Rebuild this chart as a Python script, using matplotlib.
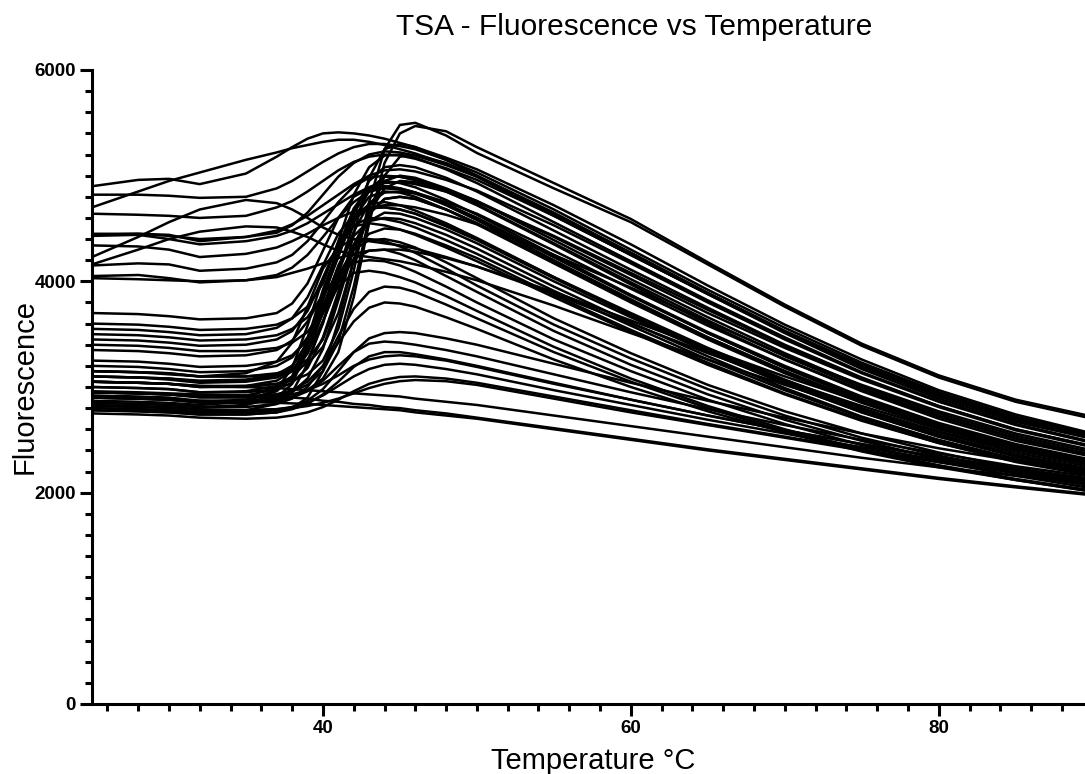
import matplotlib
matplotlib.use("Agg")
import matplotlib.pyplot as plt
from matplotlib.ticker import MultipleLocator

plt.rcParams['font.family'] = ['Liberation Sans', 'DejaVu Sans']

# temperature steps (deg C) shared by every well
temps = [25, 28, 30, 32, 35, 37, 38, 39, 40, 41, 42, 43, 44, 45, 46,
         48, 50, 55, 60, 65, 70, 75, 80, 85, 90]

# wells that already start bright and only swell gently
high_baseline = [
    [4900, 4960, 4970, 4920, 5020, 5180, 5270, 5350, 5400, 5410, 5400, 5380, 5350, 5310, 5270, 5170, 5060, 4720, 4350, 3960, 3590, 3260, 2970, 2740, 2560],
    [4820, 4820, 4810, 4790, 4800, 4880, 4950, 5040, 5130, 5210, 5270, 5300, 5300, 5280, 5250, 5150, 5030, 4680, 4300, 3920, 3560, 3230, 2950, 2720, 2550],
    [4700, 4850, 4950, 5030, 5150, 5220, 5260, 5290, 5320, 5340, 5340, 5320, 5290, 5250, 5210, 5110, 5000, 4650, 4270, 3890, 3530, 3210, 2940, 2710, 2540],
    [4640, 4630, 4620, 4600, 4620, 4700, 4760, 4850, 4950, 5050, 5130, 5180, 5200, 5190, 5160, 5070, 4960, 4620, 4250, 3880, 3520, 3200, 2920, 2690, 2510],
    [4450, 4450, 4440, 4380, 4420, 4480, 4540, 4620, 4720, 4820, 4920, 5000, 5050, 5060, 5040, 4960, 4860, 4530, 4170, 3800, 3450, 3130, 2860, 2640, 2470],
    [4430, 4440, 4400, 4350, 4380, 4430, 4480, 4550, 4640, 4730, 4820, 4890, 4930, 4940, 4920, 4850, 4750, 4430, 4080, 3730, 3390, 3080, 2820, 2600, 2440],
    [4230, 4420, 4560, 4680, 4770, 4740, 4680, 4600, 4510, 4440, 4400, 4380, 4360, 4340, 4310, 4230, 4140, 3880, 3600, 3320, 3060, 2820, 2600, 2420, 2280],
    [4160, 4300, 4400, 4470, 4520, 4510, 4470, 4420, 4350, 4290, 4250, 4230, 4210, 4190, 4160, 4090, 4010, 3770, 3510, 3260, 3020, 2790, 2580, 2400, 2260],
    [4340, 4330, 4300, 4230, 4260, 4320, 4380, 4450, 4530, 4600, 4660, 4700, 4720, 4720, 4700, 4630, 4540, 4250, 3940, 3620, 3300, 3020, 2770, 2560, 2400],
    [4030, 4020, 4010, 4000, 4010, 4040, 4080, 4120, 4170, 4220, 4260, 4290, 4300, 4300, 4280, 4220, 4140, 3900, 3630, 3360, 3100, 2860, 2640, 2450, 2300],
    [4050, 4060, 4030, 3990, 4010, 4060, 4130, 4250, 4420, 4600, 4750, 4850, 4880, 4870, 4840, 4750, 4640, 4290, 3930, 3580, 3260, 2970, 2720, 2510, 2350],
    [4440, 4450, 4430, 4400, 4420, 4460, 4530, 4650, 4820, 4990, 5120, 5200, 5230, 5220, 5190, 5100, 4990, 4640, 4270, 3890, 3530, 3200, 2920, 2690, 2520],
    [4150, 4170, 4160, 4100, 4120, 4180, 4250, 4380, 4560, 4750, 4900, 4980, 5000, 4990, 4960, 4870, 4760, 4420, 4060, 3700, 3370, 3070, 2810, 2590, 2430],
]

# wells with a clear unfolding transition around 39-43 deg C
melt_curves = [
    [3050, 3040, 3030, 3010, 3010, 3030, 3060, 3120, 3250, 3550, 4100, 4750, 5250, 5480, 5500, 5380, 5215, 4880, 4560, 4160, 3760, 3390, 3090, 2860, 2700],
    [2900, 2890, 2880, 2860, 2860, 2880, 2910, 2970, 3080, 3330, 3850, 4550, 5120, 5400, 5470, 5420, 5270, 4930, 4590, 4180, 3780, 3410, 3110, 2880, 2720],
    [3150, 3140, 3120, 3100, 3100, 3130, 3170, 3260, 3450, 3850, 4450, 4980, 5250, 5300, 5270, 5150, 5000, 4630, 4250, 3880, 3510, 3170, 2890, 2670, 2510],
    [3600, 3590, 3570, 3540, 3550, 3590, 3650, 3760, 3980, 4380, 4820, 5080, 5190, 5200, 5170, 5060, 4930, 4560, 4190, 3820, 3470, 3140, 2870, 2650, 2480],
    [3050, 3040, 3030, 3000, 3000, 3030, 3090, 3250, 3600, 4100, 4550, 4870, 4990, 4990, 4960, 4850, 4720, 4350, 3970, 3600, 3260, 2960, 2700, 2490, 2340],
    [3100, 3090, 3080, 3060, 3070, 3120, 3200, 3420, 3850, 4330, 4690, 4890, 4950, 4930, 4890, 4770, 4630, 4250, 3870, 3510, 3180, 2880, 2640, 2440, 2290],
    [2950, 2940, 2930, 2910, 2920, 2980, 3080, 3350, 3820, 4300, 4650, 4850, 4900, 4880, 4840, 4720, 4580, 4200, 3830, 3470, 3150, 2860, 2620, 2420, 2270],
    [3200, 3190, 3170, 3140, 3150, 3200, 3280, 3470, 3830, 4250, 4600, 4800, 4850, 4840, 4800, 4680, 4540, 4170, 3800, 3450, 3130, 2850, 2610, 2410, 2260],
    [3000, 2990, 2980, 2950, 2950, 2980, 3040, 3180, 3470, 3900, 4340, 4640, 4780, 4800, 4780, 4680, 4550, 4180, 3810, 3460, 3140, 2860, 2620, 2420, 2270],
    [2850, 2840, 2830, 2810, 2830, 2900, 3030, 3360, 3850, 4300, 4600, 4730, 4750, 4720, 4670, 4550, 4410, 4040, 3680, 3340, 3030, 2760, 2530, 2340, 2200],
    [3450, 3440, 3420, 3390, 3400, 3450, 3530, 3720, 4030, 4360, 4590, 4690, 4700, 4680, 4640, 4520, 4390, 4030, 3680, 3350, 3050, 2780, 2550, 2360, 2220],
    [3100, 3090, 3070, 3040, 3050, 3090, 3160, 3320, 3620, 4000, 4350, 4570, 4650, 4640, 4600, 4490, 4360, 4000, 3660, 3330, 3030, 2760, 2530, 2350, 2210],
    [2900, 2890, 2880, 2860, 2880, 2960, 3100, 3450, 3920, 4310, 4530, 4600, 4590, 4560, 4510, 4390, 4260, 3910, 3580, 3260, 2970, 2710, 2490, 2310, 2180],
    [3250, 3240, 3220, 3190, 3200, 3240, 3300, 3440, 3700, 4030, 4300, 4450, 4500, 4490, 4450, 4340, 4220, 3870, 3540, 3230, 2940, 2690, 2470, 2290, 2160],
    [3000, 2990, 2980, 2950, 2960, 3010, 3100, 3320, 3700, 4060, 4300, 4390, 4400, 4370, 4320, 4180, 4030, 3650, 3320, 3020, 2770, 2560, 2380, 2230, 2110],
    [2800, 2790, 2780, 2760, 2780, 2840, 2950, 3220, 3620, 3980, 4210, 4290, 4300, 4260, 4200, 4050, 3900, 3530, 3210, 2930, 2690, 2490, 2320, 2180, 2060],
    [3350, 3340, 3320, 3290, 3300, 3350, 3440, 3620, 3870, 4070, 4180, 4200, 4190, 4150, 4090, 3950, 3800, 3450, 3150, 2880, 2650, 2450, 2290, 2160, 2040],
    [3500, 3490, 3470, 3440, 3450, 3490, 3550, 3660, 3870, 4230, 4650, 4950, 5080, 5100, 5080, 4980, 4850, 4480, 4110, 3750, 3400, 3090, 2820, 2600, 2440],
    [2780, 2770, 2760, 2740, 2740, 2760, 2800, 2900, 3150, 3620, 4200, 4700, 4950, 5000, 4980, 4880, 4760, 4390, 4020, 3660, 3320, 3010, 2750, 2540, 2380],
    [3150, 3140, 3130, 3100, 3100, 3120, 3150, 3220, 3380, 3700, 4200, 4650, 4880, 4950, 4940, 4850, 4730, 4360, 3990, 3630, 3290, 2990, 2730, 2520, 2360],
    [3400, 3390, 3370, 3340, 3340, 3370, 3420, 3520, 3730, 4080, 4470, 4740, 4840, 4850, 4830, 4730, 4600, 4230, 3860, 3510, 3190, 2900, 2650, 2450, 2300],
    [2920, 2910, 2900, 2870, 2870, 2900, 2950, 3080, 3360, 3820, 4300, 4640, 4780, 4800, 4780, 4680, 4550, 4180, 3810, 3470, 3150, 2860, 2620, 2420, 2280],
    [3550, 3540, 3520, 3490, 3500, 3560, 3650, 3850, 4150, 4450, 4630, 4700, 4700, 4680, 4640, 4530, 4400, 4040, 3700, 3370, 3070, 2800, 2570, 2380, 2240],
    [2950, 2940, 2930, 2910, 2910, 2930, 2960, 3020, 3150, 3430, 3950, 4600, 5000, 5180, 5200, 5120, 4990, 4620, 4250, 3880, 3520, 3190, 2910, 2690, 2530],
    [3050, 3040, 3030, 3000, 3010, 3060, 3150, 3370, 3760, 4150, 4430, 4570, 4600, 4590, 4550, 4440, 4310, 3950, 3610, 3290, 2990, 2720, 2500, 2320, 2190],
    [3700, 3690, 3670, 3640, 3650, 3700, 3790, 3980, 4290, 4600, 4800, 4880, 4900, 4880, 4840, 4730, 4600, 4230, 3870, 3520, 3200, 2910, 2660, 2460, 2310],
    [2870, 2860, 2850, 2830, 2860, 2980, 3180, 3580, 4030, 4350, 4520, 4550, 4530, 4490, 4440, 4320, 4190, 3850, 3520, 3210, 2930, 2680, 2470, 2300, 2170],
    [3150, 3140, 3130, 3100, 3130, 3240, 3420, 3760, 4120, 4320, 4400, 4400, 4380, 4330, 4270, 4120, 3960, 3590, 3270, 2980, 2730, 2520, 2350, 2210, 2090],
    [2850, 2840, 2830, 2810, 2810, 2840, 2890, 3000, 3200, 3480, 3740, 3900, 3950, 3940, 3900, 3780, 3650, 3330, 3050, 2800, 2580, 2400, 2250, 2120, 2010],
    [2950, 2940, 2930, 2910, 2910, 2930, 2970, 3050, 3200, 3420, 3620, 3750, 3800, 3790, 3760, 3660, 3550, 3260, 3000, 2770, 2570, 2390, 2240, 2120, 2010],
    [3100, 3090, 3080, 3050, 3060, 3110, 3200, 3400, 3700, 3950, 4080, 4100, 4080, 4040, 3990, 3860, 3720, 3380, 3080, 2820, 2600, 2410, 2260, 2130, 2020],
]

# weak responders: small bump only
low_bump = [
    [2800, 2790, 2780, 2760, 2760, 2780, 2810, 2870, 2980, 3150, 3330, 3460, 3510, 3520, 3510, 3460, 3400, 3220, 3040, 2870, 2710, 2560, 2420, 2300, 2190],
    [2900, 2890, 2880, 2850, 2850, 2870, 2900, 2960, 3060, 3200, 3330, 3410, 3430, 3420, 3400, 3350, 3290, 3120, 2950, 2790, 2640, 2500, 2370, 2250, 2150],
    [2780, 2770, 2760, 2740, 2740, 2760, 2790, 2840, 2930, 3050, 3190, 3290, 3330, 3330, 3310, 3260, 3200, 3040, 2880, 2730, 2590, 2460, 2330, 2220, 2120],
    [2950, 2940, 2930, 2900, 2900, 2910, 2930, 2970, 3030, 3110, 3200, 3260, 3290, 3300, 3290, 3250, 3190, 3030, 2880, 2730, 2590, 2460, 2340, 2230, 2130],
    [2830, 2820, 2810, 2790, 2780, 2790, 2810, 2850, 2920, 3010, 3100, 3170, 3210, 3220, 3210, 3170, 3120, 2970, 2830, 2690, 2560, 2430, 2310, 2210, 2110],
    [2750, 2740, 2730, 2710, 2700, 2710, 2730, 2760, 2810, 2880, 2960, 3030, 3070, 3095, 3100, 3080, 3040, 2910, 2780, 2650, 2530, 2410, 2290, 2190, 2090],
    [2820, 2810, 2800, 2780, 2780, 2790, 2800, 2820, 2850, 2890, 2940, 2990, 3030, 3055, 3066, 3055, 3020, 2890, 2760, 2640, 2520, 2400, 2290, 2190, 2080],
]

# no transition, signal just drifts down
no_melt = [
    [2960, 2950, 2940, 2930, 2920, 2910, 2900, 2890, 2870, 2860, 2840, 2830, 2810, 2800, 2780, 2750, 2710, 2610, 2510, 2410, 2320, 2230, 2140, 2060, 1985],
    [2900, 2890, 2880, 2870, 2860, 2850, 2845, 2840, 2830, 2820, 2810, 2800, 2790, 2780, 2760, 2730, 2700, 2600, 2500, 2400, 2310, 2220, 2130, 2050, 1975],
    [3050, 3040, 3030, 3010, 3000, 2990, 2980, 2970, 2960, 2950, 2940, 2930, 2920, 2910, 2890, 2860, 2830, 2730, 2630, 2530, 2430, 2330, 2240, 2160, 2080],
]

fig = plt.figure(figsize=(10.85, 7.74), dpi=100)
ax = fig.add_axes([92 / 1085, 70 / 774, 1 - 92 / 1085, 634 / 774])

for group in (high_baseline, melt_curves, low_bump, no_melt):
    for well in group:
        ax.plot(temps, well, color='black', lw=1.8, solid_joinstyle='round')

ax.set_xlim(25, 89.5)
ax.set_ylim(0, 6000)
ax.set_xticks([40, 60, 80])
ax.set_yticks([0, 2000, 4000, 6000])
ax.xaxis.set_minor_locator(MultipleLocator(2))
ax.yaxis.set_minor_locator(MultipleLocator(200))

for s in ['top', 'right']:
    ax.spines[s].set_visible(False)
for s in ['left', 'bottom']:
    ax.spines[s].set_linewidth(2.2)
    ax.spines[s].set_capstyle('projecting')

ax.tick_params(which='major', direction='out', length=8.5, width=2.2, labelsize=13.5, pad=3)
ax.tick_params(which='minor', direction='out', length=5, width=2.2)
for lab in ax.get_xticklabels() + ax.get_yticklabels():
    lab.set_fontweight('bold')

fig.text(634 / 1085, 1 - 35 / 774, 'TSA - Fluorescence vs Temperature',
         fontsize=21.5, ha='center', va='baseline')
fig.text(593 / 1085, 1 - 769 / 774, 'Temperature °C',
         fontsize=21, ha='center', va='baseline')
fig.text(33 / 1085, 1 - 386 / 774, 'Fluorescence', fontsize=21,
         rotation=90, rotation_mode='anchor', ha='center', va='baseline')

fig.savefig('out.png', dpi=100)
